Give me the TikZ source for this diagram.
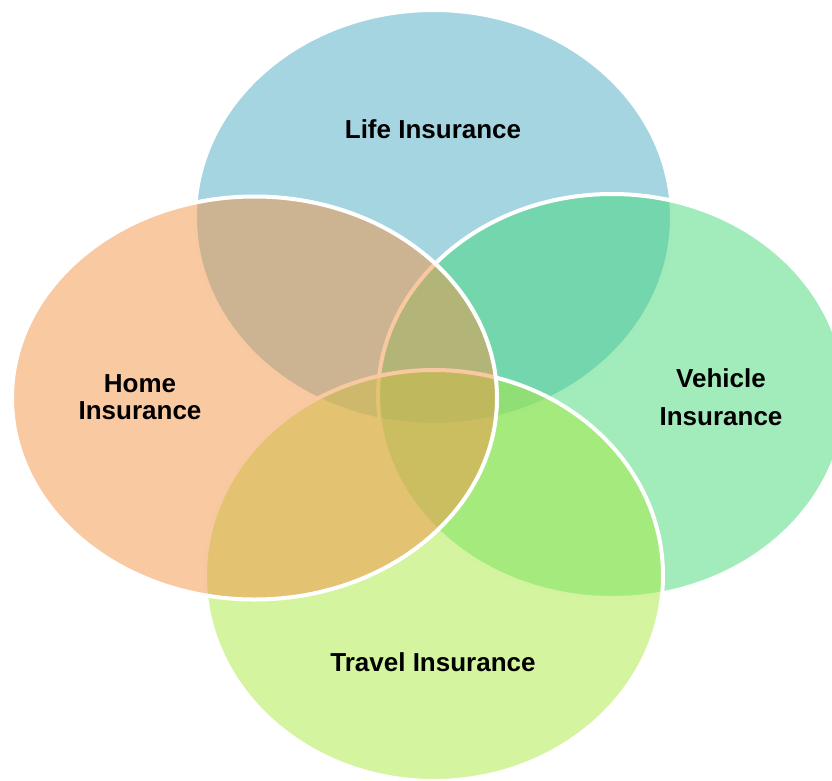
\documentclass[tikz,border=0pt]{standalone}
\usepackage{fontspec}
\setmainfont{Liberation Sans}
\usepackage{tikz}
\usetikzlibrary{positioning}

\definecolor{lifeblue}{RGB}{77,171,197}
\definecolor{homeorange}{RGB}{243,147,69}
\definecolor{vehiclegreen}{RGB}{69,217,119}
\definecolor{travellime}{RGB}{169,233,65}

\begin{document}
\begin{tikzpicture}[x=1pt, y=-1pt,
		blob/.style = {draw=white, line width=4pt, fill opacity=0.5, draw opacity=1},
		lbl/.style = {font=\fontsize{26}{27}\selectfont\bfseries, align=center, text=black},
	]
	\useasboundingbox (0,0) rectangle (832,781);

	% the four sets, bottom one first
	\filldraw[blob, fill=lifeblue] (433.5,217.5) ellipse [x radius=238.5pt, y radius=207.5pt];
	\filldraw[blob, fill=vehiclegreen] (612,396) ellipse [x radius=234pt, y radius=202pt];
	\filldraw[blob, fill=travellime] (434,575.5) ellipse [x radius=229pt, y radius=205.5pt];
	\filldraw[blob, fill=homeorange] (254.5,398) ellipse [x radius=242.5pt, y radius=201.5pt];

	\node[lbl] (life) at (433,129) {Life Insurance};
	\node[lbl] (home) at (140,397) {Home\\Insurance};
	\node[lbl] (vehicle) at (721,397) {Vehicle\\[11pt]Insurance};
	\node[lbl] (travel) at (433,662) {Travel Insurance};

\end{tikzpicture}
\end{document}
